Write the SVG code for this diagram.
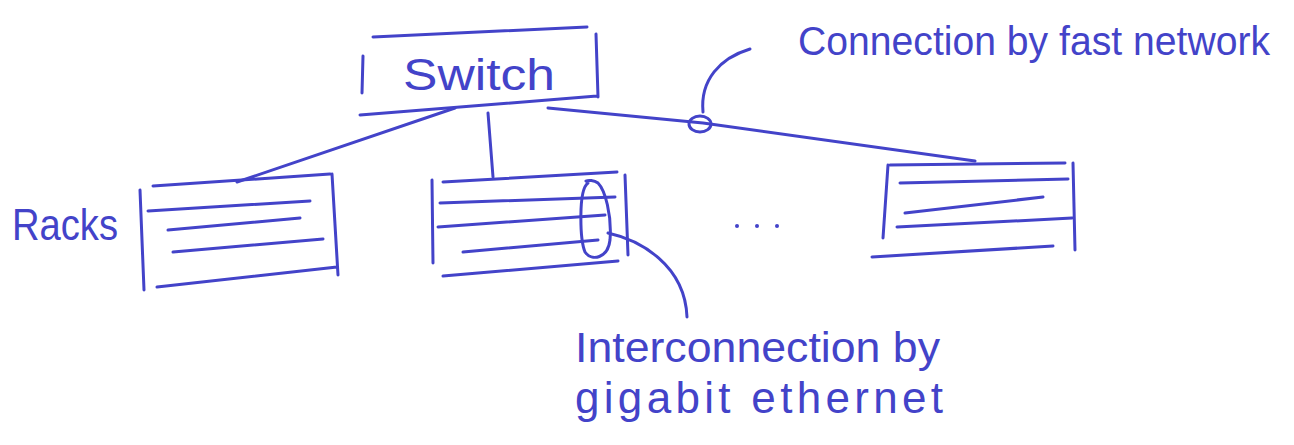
<svg xmlns="http://www.w3.org/2000/svg" width="1294" height="445" viewBox="0 0 1294 445">
<style>
.s{fill:none;stroke:#4343c9;stroke-width:3;stroke-linecap:round;stroke-linejoin:round}
.t{fill:#4343c9;font-family:"Liberation Sans",Arial,sans-serif}
</style>
<rect width="1294" height="445" fill="#ffffff"/>
<g id="switch">
<path class="s" d="M373,37 L587,27 M363,56 L362,93 M596,34 L598,97 M360,115 L597,96"/>
<text class="t" x="403" y="90" font-size="44" textLength="152" lengthAdjust="spacingAndGlyphs">Switch</text>
</g>
<g id="rack1">
<path class="s" d="M153,186 L330,174 M140,190 L144,290 M332,174 L338,275 M148,211 L310,201 M168,230 L300,218 M173,252 L323,239 M157,287 L337,267"/>
</g>
<g id="rack2">
<path class="s" d="M443,182 L617,172 M432,180 L433,263 M625,175 L628,255 M440,203 L615,197 M438,227 L605,215 M463,252 L598,240 M443,276 L618,261"/>
</g>
<g id="rack3">
<path class="s" d="M890,165 L1065,163 M888,165 L883,238 M1073,163 L1075,250 M900,183 L1068,179 M905,213 L1043,197 M897,227 L1072,218 M872,257 L1053,246"/>
</g>
<g id="dots">
<circle cx="737" cy="226" r="2" fill="#4343c9"/>
<circle cx="757" cy="226" r="2" fill="#4343c9"/>
<circle cx="777" cy="226" r="2" fill="#4343c9"/>
</g>
<g id="racks-label">
<text class="t" x="12" y="240" font-size="44" textLength="106" lengthAdjust="spacingAndGlyphs">Racks</text>
</g>
<g id="connectors">
<path class="s" d="M455,108 L237,182"/>
<path class="s" d="M488,113 L493,177"/>
<path class="s" d="M548,108 L703,123 L975,161"/>
<ellipse class="s" cx="700" cy="124" rx="11" ry="8"/>
<path class="s" d="M703,112 C700,80 720,58 750,49"/>
<path class="s" d="M588,183 C578,190 580,240 585,252 C592,262 608,258 610,240 C612,215 605,190 598,183 C594,180 588,180 586,181"/>
<path class="s" d="M608,233 C640,240 685,265 687,317"/>
</g>
<g id="fast-network-label">
<text class="t" x="798" y="55" font-size="41" textLength="472" lengthAdjust="spacingAndGlyphs">Connection by fast network</text>
</g>
<g id="gigabit-label">
<text class="t" x="575" y="362" font-size="42" textLength="365" lengthAdjust="spacingAndGlyphs">Interconnection by</text>
<text class="t" x="575" y="413" font-size="44" textLength="368">gigabit ethernet</text>
</g>
</svg>
